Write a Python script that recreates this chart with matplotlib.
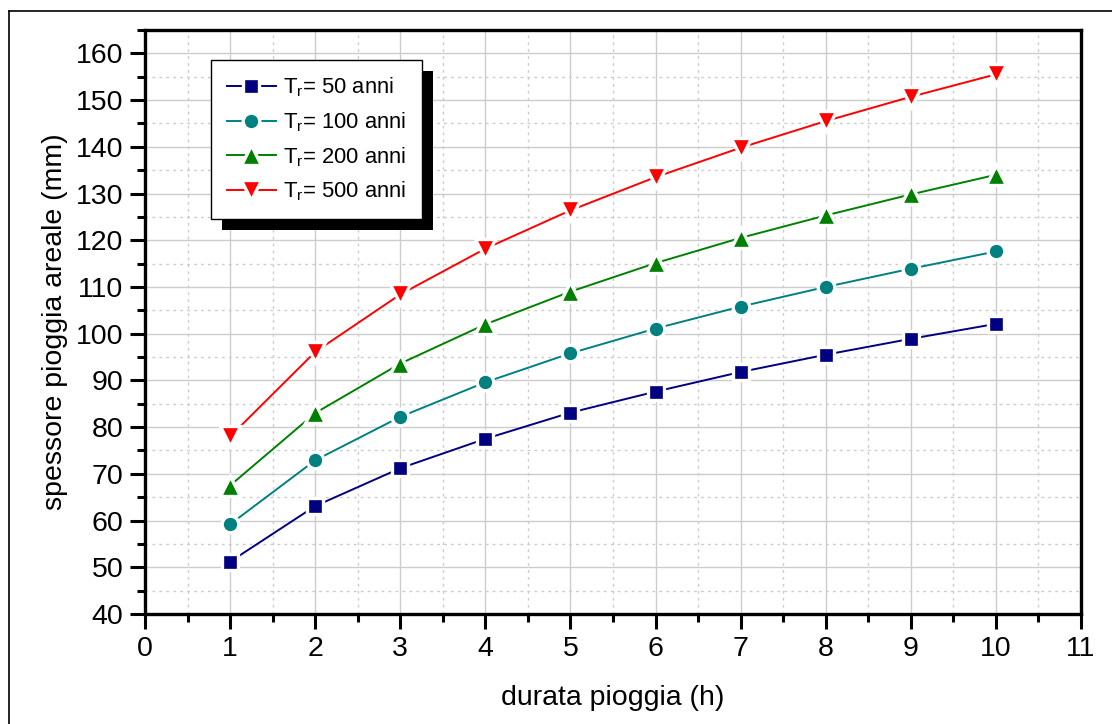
import matplotlib
matplotlib.use("Agg")
import matplotlib.pyplot as plt
from matplotlib.ticker import MultipleLocator
from matplotlib.patches import Rectangle
from matplotlib.lines import Line2D

plt.rcParams['font.family'] = ['Liberation Sans', 'DejaVu Sans']
plt.rcParams['mathtext.fontset'] = 'custom'
plt.rcParams['mathtext.rm'] = 'Liberation Sans'
plt.rcParams['mathtext.it'] = 'Liberation Sans'

durata = [1, 2, 3, 4, 5, 6, 7, 8, 9, 10]
tr50 = [51.2, 63.1, 71.2, 77.5, 83.1, 87.6, 91.8, 95.5, 98.9, 102.1]
tr100 = [59.2, 72.9, 82.2, 89.6, 95.8, 101.1, 105.8, 110.0, 113.9, 117.6]
tr200 = [67.5, 83.0, 93.6, 102.0, 109.0, 115.1, 120.5, 125.3, 129.8, 134.0]
tr500 = [78.0, 96.1, 108.4, 118.2, 126.4, 133.5, 139.8, 145.5, 150.7, 155.5]
labels = [r'T$_\mathregular{r}$= 50 anni', r'T$_\mathregular{r}$= 100 anni',
          r'T$_\mathregular{r}$= 200 anni', r'T$_\mathregular{r}$= 500 anni']
colors = ['#000080', '#008080', '#008000', '#ff0000']
markers = ['s', 'o', '^', 'v']
msizes = [11, 12, 14, 14]

fig = plt.figure(figsize=(11.12, 7.24), dpi=100)
ax = fig.add_axes([0.1304, 0.1519, 0.9721 - 0.1304, 0.9586 - 0.1519])

# outer frame lines (left and top)
fig.add_artist(Line2D([9/1112, 9/1112], [0, 1 - 11/724], color='black', lw=1.2, transform=fig.transFigure))
fig.add_artist(Line2D([9/1112, 1], [1 - 11/724, 1 - 11/724], color='black', lw=1.2, transform=fig.transFigure))

handles = []
for ys, c, m, ms, lab in zip([tr50, tr100, tr200, tr500], colors, markers, msizes, labels):
    h, = ax.plot(durata, ys, color=c, lw=1.4, marker=m, markersize=ms,
                 markerfacecolor=c, markeredgecolor='white', markeredgewidth=2.4,
                 label=lab, zorder=3)
    handles.append(h)

ax.set_xlim(0, 11)
ax.set_ylim(40, 165)
ax.xaxis.set_major_locator(MultipleLocator(1))
ax.xaxis.set_minor_locator(MultipleLocator(0.5))
ax.yaxis.set_major_locator(MultipleLocator(10))
ax.yaxis.set_minor_locator(MultipleLocator(5))
ax.set_yticks(range(40, 161, 10))

ax.grid(which='major', color='#cccccc', lw=1.0, ls='-', zorder=0)
ax.grid(which='minor', color='#cccccc', lw=1.0, ls=(0, (2, 3)), zorder=0)
ax.set_axisbelow(True)

for s in ax.spines.values():
    s.set_linewidth(2.4)
ax.tick_params(which='major', direction='out', length=10.5, width=2.2, labelsize=20.5, pad=5,
               top=False, right=False)
ax.tick_params(which='minor', direction='out', length=5.5, width=2.2, top=False, right=False)

ax.set_xlabel('durata pioggia (h)', fontsize=20.5, labelpad=17)
ax.set_ylabel('spessore pioggia areale (mm)', fontsize=20.5, labelpad=6)

leg = ax.legend(handles=handles, loc='upper left', bbox_to_anchor=(0.0705, 0.9486),
                borderaxespad=0, fontsize=15.8, frameon=True, fancybox=False,
                edgecolor='black', framealpha=1, handlelength=2.25, handletextpad=0.3,
                labelspacing=0.5, borderpad=0.72)
leg.get_frame().set_linewidth(1.0)
leg.set_zorder(6)

fig.canvas.draw()
bb = leg.get_window_extent()
shadow = Rectangle((bb.x0 + 11, bb.y0 - 11), bb.width, bb.height, transform=None,
                   facecolor='black', edgecolor='none', zorder=5.5, clip_on=False)
ax.add_artist(shadow)

fig.savefig('out.png', dpi=100)
